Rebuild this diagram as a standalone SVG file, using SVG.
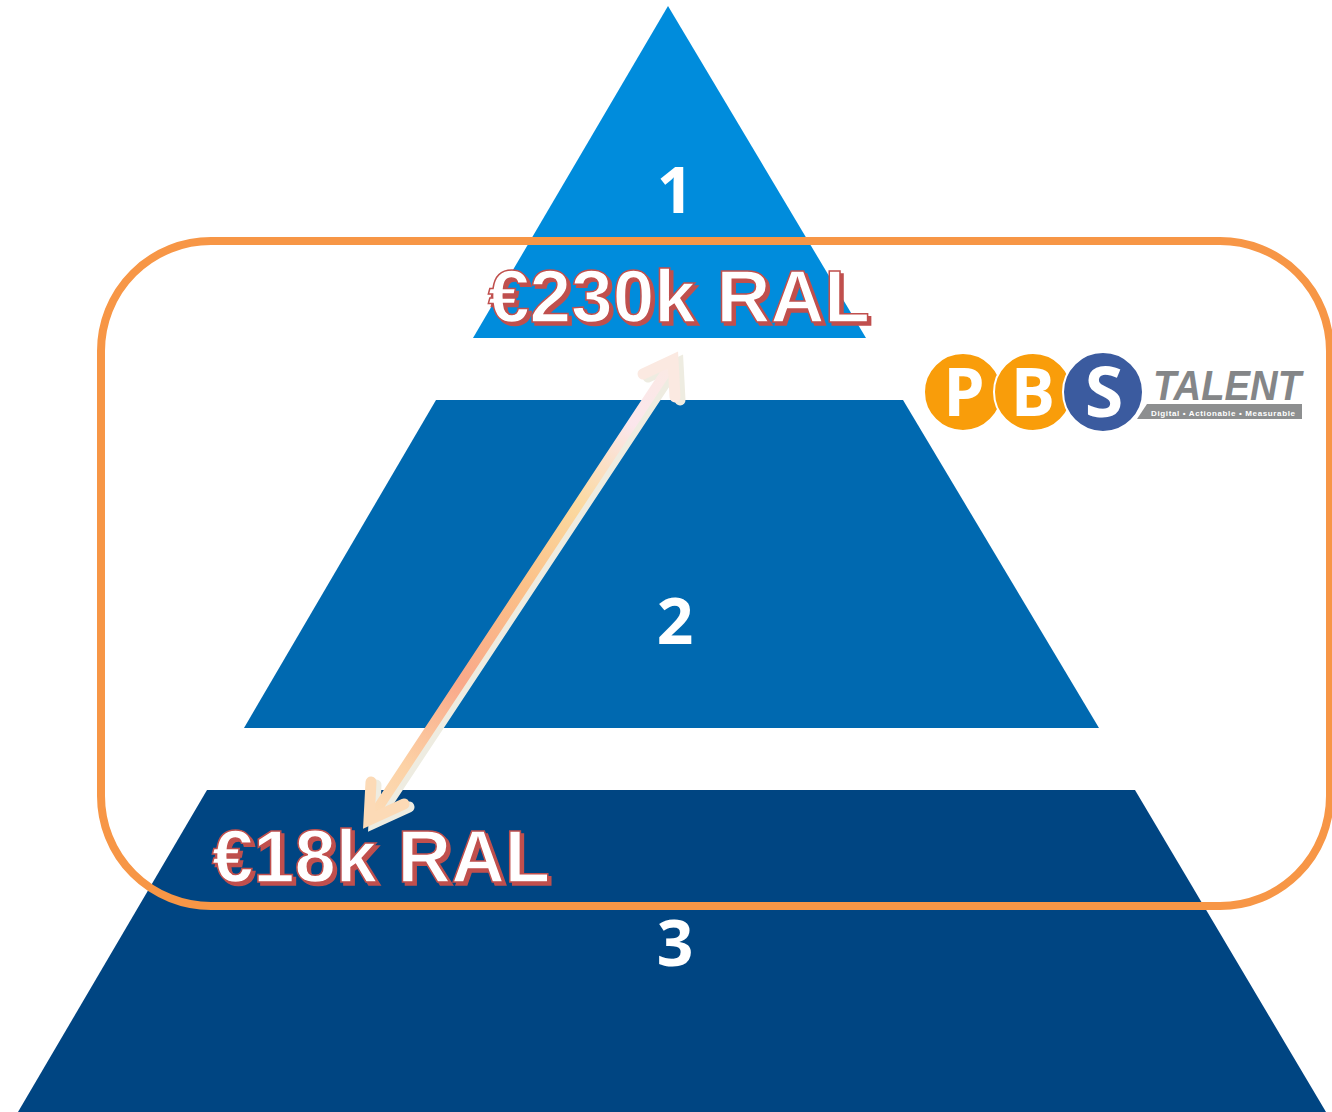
<svg xmlns="http://www.w3.org/2000/svg" width="1332" height="1112" viewBox="0 0 1332 1112">
<defs>
<style>
.num{font-family:"Open Sans","Noto Sans",sans-serif;font-weight:700;font-size:64px;fill:#fff;text-anchor:middle}
.ral{font-family:"Liberation Sans",Arial,sans-serif;font-weight:700;font-size:74px;fill:#fff;stroke:#c0504d;stroke-width:1.5px;filter:url(#textShadow)}
.logo{font-family:"Open Sans","Noto Sans",sans-serif;font-weight:700;fill:#fff;text-anchor:middle}
.soft{filter:url(#soft)}
</style>
<filter id="soft" x="-2%" y="-2%" width="104%" height="104%"><feGaussianBlur stdDeviation="0.6"/></filter>
<filter id="textShadow" x="-3%" y="-10%" width="106%" height="125%"><feDropShadow dx="3" dy="3" stdDeviation="0.5" flood-color="#c0504d"/></filter>
<linearGradient id="arrowGrad" gradientUnits="userSpaceOnUse" x1="370" y1="825" x2="680" y2="355">
<stop offset="0" stop-color="#fcdcb8"/>
<stop offset="0.12" stop-color="#fcd2a6"/>
<stop offset="0.3" stop-color="#f9a98a"/>
<stop offset="0.5" stop-color="#fbc088"/>
<stop offset="0.68" stop-color="#fbd9a0"/>
<stop offset="0.85" stop-color="#fbe6ec"/>
<stop offset="1" stop-color="#fbeae2"/>
</linearGradient>
</defs>
<rect width="1332" height="1112" fill="#fff"/>
<g id="tier-1"><polygon class="soft" points="668,6 866,338 473,338" fill="#048cdc"/><text class="num" x="675" y="213">1</text></g>
<g id="tier-2"><polygon class="soft" points="436,400 903,400 1099,728 244,728" fill="#0069b0"/><text class="num" x="675" y="644">2</text></g>
<g id="tier-3"><polygon class="soft" points="207,790 1135,790 1326,1112 18,1112" fill="#004482"/><text class="num" x="675" y="966">3</text></g>
<g id="frame"><rect x="101" y="241" width="1229" height="665" rx="110" ry="110" fill="none" stroke="#f79646" stroke-width="8"/></g>
<g id="connectors" fill="none" stroke-linecap="round" stroke-linejoin="miter" stroke-miterlimit="10">
<g stroke="#eeece1" transform="translate(5,3)">
<path d="M372,817 L672,363" stroke-width="10"/><path d="M643,374 L673,360 L675,397" stroke-width="11"/><path d="M371,782 L369,820 L404,804" stroke-width="11"/>
</g>
<path d="M372,817 L672,363" stroke="url(#arrowGrad)" stroke-width="10"/>
<path d="M643,374 L673,360 L675,397" stroke="#fbe9e1" stroke-width="11"/>
<path d="M371,782 L369,820 L404,804" stroke="#fcdab6" stroke-width="11"/>
</g>
<g id="label-230k"><text class="ral" x="488" y="322" textLength="382" lengthAdjust="spacingAndGlyphs">€230k RAL</text></g>
<g id="label-18k"><text class="ral" x="212" y="882" textLength="338" lengthAdjust="spacingAndGlyphs">€18k RAL</text></g>
<g id="logo">
<polygon points="1147,404 1302,404 1302,419 1137,419" fill="#8d8f90"/>
<circle cx="963" cy="392" r="39" fill="#f99d0a" stroke="#fff" stroke-width="2"/>
<circle cx="1033" cy="392" r="39" fill="#f99d0a" stroke="#fff" stroke-width="2"/>
<circle cx="1103" cy="392" r="40" fill="#3b5b9f" stroke="#fff" stroke-width="2"/>
<text class="logo" x="964" y="416" font-size="66">P</text>
<text class="logo" x="1033" y="416" font-size="66">B</text>
<text class="logo" x="1104" y="417" font-size="70">S</text>
<text x="1153" y="399.5" font-family="'Liberation Sans',Arial,sans-serif" font-size="42" font-weight="700" font-style="italic" fill="#848688" textLength="148" lengthAdjust="spacingAndGlyphs">TALENT</text>
<text x="1151" y="416" font-family="'Liberation Sans',Arial,sans-serif" font-size="8" font-weight="700" fill="#fff" textLength="144" lengthAdjust="spacing">Digital • Actionable • Measurable</text>
</g>
</svg>
